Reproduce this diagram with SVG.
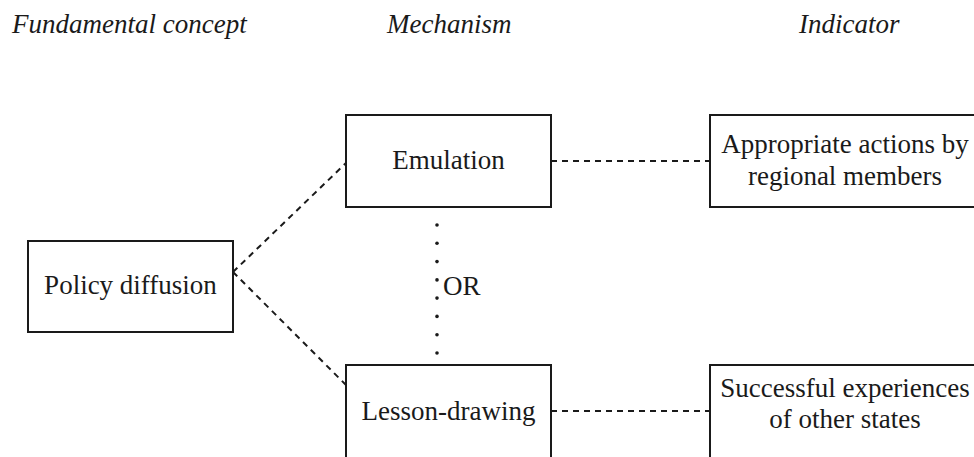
<svg xmlns="http://www.w3.org/2000/svg" width="974" height="457" viewBox="0 0 974 457">
<style>
text{font-family:"Liberation Serif","Times New Roman",serif;font-size:27px;fill:#1a1a1a}
.hd{font-style:italic}
.box{fill:#fff;stroke:#1a1a1a;stroke-width:2}
.dash{fill:none;stroke:#1a1a1a;stroke-width:2;stroke-dasharray:6 5}
.dot{fill:#1a1a1a}
</style>
<rect width="974" height="457" fill="#fff"/>
<g id="headers">
<text class="hd" x="12" y="33">Fundamental concept</text>
<text class="hd" x="387" y="33">Mechanism</text>
<text class="hd" x="799" y="33">Indicator</text>
</g>
<g id="connectors">
<line class="dash" x1="233" y1="272" x2="346" y2="163"/>
<line class="dash" x1="233" y1="272" x2="346" y2="385"/>
<line class="dash" x1="551" y1="161" x2="710" y2="161"/>
<line class="dash" x1="551" y1="411" x2="710" y2="411"/>
<g id="or-link">
<circle class="dot" cx="437" cy="225" r="1.8"/>
<circle class="dot" cx="437" cy="243.3" r="1.8"/>
<circle class="dot" cx="437" cy="261.6" r="1.8"/>
<circle class="dot" cx="437" cy="279.9" r="1.8"/>
<circle class="dot" cx="437" cy="298.1" r="1.8"/>
<circle class="dot" cx="437" cy="316.4" r="1.8"/>
<circle class="dot" cx="437" cy="334.7" r="1.8"/>
<circle class="dot" cx="437" cy="353" r="1.8"/>
<text x="443" y="295">OR</text>
</g>
</g>
<g id="policy-diffusion">
<rect class="box" x="28" y="241" width="205" height="91"/>
<text x="130.5" y="294" text-anchor="middle">Policy diffusion</text>
</g>
<g id="emulation">
<rect class="box" x="346" y="115" width="205" height="92"/>
<text x="448.5" y="169" text-anchor="middle">Emulation</text>
</g>
<g id="lesson-drawing">
<rect class="box" x="346" y="365" width="205" height="100"/>
<text x="448.5" y="420" text-anchor="middle">Lesson-drawing</text>
</g>
<g id="appropriate-actions">
<rect class="box" x="710" y="115" width="270" height="92"/>
<text x="845" y="153" text-anchor="middle">Appropriate actions by</text>
<text x="845" y="185" text-anchor="middle">regional members</text>
</g>
<g id="successful-experiences">
<rect class="box" x="710" y="365" width="270" height="100"/>
<text x="845" y="397" text-anchor="middle">Successful experiences</text>
<text x="845" y="428" text-anchor="middle">of other states</text>
</g>
</svg>
